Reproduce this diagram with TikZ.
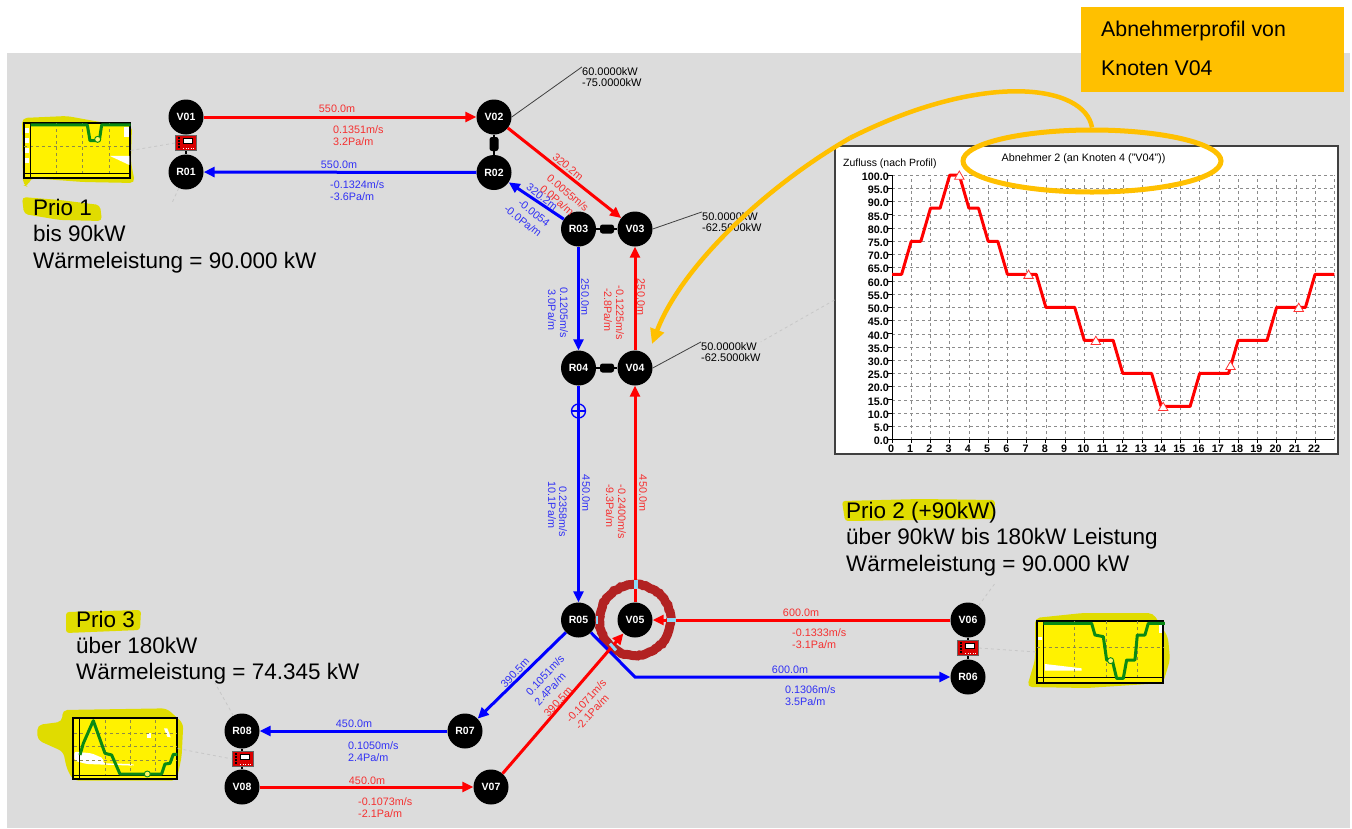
\documentclass[tikz,border=0pt]{standalone}
\usepackage{fontspec}
\setmainfont{Liberation Sans}
\usetikzlibrary{arrows.meta,shapes.geometric,decorations.pathmorphing}
\definecolor{sheetgray}{HTML}{DCDCDC}
\definecolor{noteorange}{HTML}{FFC000}
\definecolor{labelred}{HTML}{F53030}
\definecolor{labelblue}{HTML}{3030F5}
\definecolor{marker}{HTML}{E0DC00}
\definecolor{ringbrown}{HTML}{B22222}
\definecolor{curvegreen}{HTML}{0A8A14}
\begin{document}
\begin{tikzpicture}[
    x=1pt, y=-1pt,
    knot/.style = {
        circle,
        fill=black,
        text=white,
        minimum size=35pt,
        inner sep=0pt,
        font=\fontsize{10.5}{12}\selectfont\bfseries
    },
    redline/.style = {
        -{Triangle[length=11pt,width=10pt]},
        line width=3pt,
        draw=red
    },
    blueline/.style = {
        -{Triangle[length=11pt,width=10pt]},
        line width=3pt,
        draw=blue
    },
    redtext/.style = {
        text=labelred,
        align=left,
        inner sep=0pt,
        font=\fontsize{10.8}{12}\selectfont
    },
    bluetext/.style = {
        text=labelblue,
        align=left,
        inner sep=0pt,
        font=\fontsize{10.8}{12}\selectfont
    },
    loadtext/.style = {
        anchor=west,
        align=left,
        inner sep=0pt,
        font=\fontsize{11}{11.7}\selectfont
    },
    priotext/.style = {
        anchor=north west,
        align=left,
        inner sep=0pt,
        font=\fontsize{22.5}{26.3}\selectfont
    },
    notetext/.style = {
        anchor=west,
        inner sep=0pt,
        font=\fontsize{21.3}{24}\selectfont
    },
    leader/.style = {
        draw=black!75,
        line width=0.8pt
    },
    faintline/.style = {
        draw=black!22,
        dashed,
        line width=0.8pt
    },
    link/.style = {
        draw=black,
        line width=1.5pt
    },
    devicebox/.style = {
        rectangle,
        fill=red!85!black,
        draw=black!60,
        line width=0.8pt,
        minimum width=21pt,
        minimum height=15pt,
        inner sep=0pt
    },
    devicescreen/.style = {
        rectangle,
        fill=white,
        draw=black,
        line width=0.6pt,
        minimum width=9pt,
        minimum height=5pt,
        inner sep=0pt
    },
    pumpbox/.style = {
        rectangle,
        rounded corners=2.5pt,
        fill=black,
        minimum width=14pt,
        minimum height=9pt,
        inner sep=0pt
    },
    minichart/.style = {
        rectangle,
        fill=yellow,
        draw=black,
        line width=1.2pt,
        inner sep=0pt
    },
    minigrid/.style = {
        draw=black!50!yellow,
        dashed,
        line width=0.6pt
    },
    minicurve/.style = {
        draw=curvegreen,
        line width=3pt,
        line join=round
    },
    minidot/.style = {
        circle,
        fill=yellow!60,
        draw=curvegreen,
        line width=0.9pt,
        minimum size=6pt,
        inner sep=0pt
    },
    gridline/.style = {
        draw=black!45,
        dash pattern=on 3pt off 3pt,
        line width=0.5pt
    },
    ticktext/.style = {
        inner sep=0pt,
        font=\fontsize{10.8}{12}\selectfont\bfseries
    },
    hourmark/.style = {
        regular polygon,
        regular polygon sides=3,
        fill=white,
        draw=red!80,
        line width=0.8pt,
        minimum size=11pt,
        inner sep=0pt
    },
    tipmark/.style = {
        rectangle,
        fill=cyan!45,
        inner sep=0pt
    }
]

\useasboundingbox (0,0) rectangle (1352,828);
\fill[white] (0,0) rectangle (1352,828);
\fill[sheetgray] (7,53) rectangle (1350,828);

% network knots
\node (V01) [knot] at (186,117) {V01};
\node (R01) [knot] at (186,172) {R01};
\node (V02) [knot] at (494,117) {V02};
\node (R02) [knot] at (494,172.5) {R02};
\node (R03) [knot] at (578.5,229) {R03};
\node (V03) [knot] at (635,229) {V03};
\node (R04) [knot] at (578.5,368) {R04};
\node (V04) [knot] at (635,368) {V04};
\node (R05) [knot] at (578.5,620) {R05};
\node (V05) [knot] at (635,620) {V05};
\node (V06) [knot] at (968,620) {V06};
\node (R06) [knot] at (968,677) {R06};
\node (R07) [knot] at (465,731) {R07};
\node (R08) [knot] at (242,731) {R08};
\node (V08) [knot] at (242,787) {V08};
\node (V07) [knot] at (491,787) {V07};

% heat ring round V05
\node (ring) [circle, draw=ringbrown, line width=9pt, minimum size=71pt, inner sep=0pt, decorate, decoration={random steps,segment length=2.5pt,amplitude=0.7pt}] at (635,620) {};

\coordinate (bend06) at (635,677);
\draw [redline] (V01) -- (V02);
\draw [blueline] (R02) -- (R01);
\draw [redline] (V02) -- (V03);
\draw [blueline] (R03) -- (R02);
\draw [redline] (V04) -- (V03);
\draw [blueline] (R03) -- (R04);
\draw [redline] (V05) -- (V04);
\draw [blueline] (R04) -- (R05);
\draw [redline] (V06) -- (V05);
\draw [blueline] (R05) -- (bend06) -- (R06);
\draw [blueline] (R05) -- (R07);
\draw [redline] (V07) -- (V05);
\draw [blueline] (R07) -- (R08);
\draw [redline] (V08) -- (V07);

\node (ringtop) [tipmark, minimum width=4pt, minimum height=9pt] at (635.5,584) {};
\node (ringright) [tipmark, minimum width=9pt, minimum height=4pt] at (671,620) {};
\node (ringdiag) [tipmark, minimum width=9pt, minimum height=3pt, rotate=-48] at (613,647) {};
\node (ringleft) [tipmark, minimum width=2pt, minimum height=8pt] at (596.5,620) {};

% valve on the return line
\node (valve) [circle, draw=blue, line width=1.3pt, minimum size=14pt, inner sep=0pt] at (578.5,411) {};
\draw [blue, line width=1.3pt] (valve.west) -- (valve.east);

% pumps and consumer boxes between the knots
\draw [link] (V01) -- (R01);
\draw [link] (V06) -- (R06);
\draw [link] (V08) -- (R08);
\draw [link] (V02) -- (R02);
\draw [link] (R03) -- (V03);
\draw [link] (R04) -- (V04);
\node (pump02) [pumpbox, rotate=90] at (494,144) {};
\node (pump03) [pumpbox] at (607,229) {};
\node (pump04) [pumpbox] at (607,368) {};
\foreach \devname/\devx/\devy in {devA/186/143, devB/968/648, devC/243/759} {
    \node (\devname) [devicebox] at (\devx,\devy) {};
    \node (\devname s) [devicescreen] at (\devx+2,\devy-2) {};
    \draw [black, line width=1.2pt, dash pattern=on 1.5pt off 1.5pt] (\devx-7,\devy-6) -- (\devx-7,\devy+6);
    \draw [white, line width=1pt, dash pattern=on 1pt off 1.5pt] (\devx-3,\devy+5) -- (\devx+9,\devy+5);
}

% pipe labels
\node (len0102) [redtext] at (337,109) {550.0m};
\node (flow0102) [redtext, anchor=north west] at (333,125) {0.1351m/s\\3.2Pa/m};
\node (len0201) [bluetext] at (339,165) {550.0m};
\node (flow0201) [bluetext, anchor=north west] at (330,180) {-0.1324m/s\\-3.6Pa/m};
\node (len0203) [redtext, rotate=-40] at (568,167) {320.2m};
\node (flow0203) [redtext, rotate=-40] at (568,193) {0.0055m/s};
\node (pres0203) [redtext, rotate=-40] at (557,200) {0.0Pa/m};
\node (len0302) [bluetext, rotate=-38] at (542,197) {320.2m};
\node (flow0302) [bluetext, rotate=-38] at (534,213) {-0.0054};
\node (pres0302) [bluetext, rotate=-38] at (523,221) {-0.0Pa/m};
\node (len0304) [bluetext, rotate=-90] at (585,297) {250.0m};
\node (flow0304) [bluetext, rotate=-90] at (564,313) {0.1205m/s};
\node (pres0304) [bluetext, rotate=-90] at (552,310) {3.0Pa/m};
\node (len0403) [redtext, rotate=-90] at (641,297) {250.0m};
\node (flow0403) [redtext, rotate=-90] at (620,313) {-0.1225m/s};
\node (pres0403) [redtext, rotate=-90] at (608,310) {-2.8Pa/m};
\node (len0405) [bluetext, rotate=-90] at (586,493) {450.0m};
\node (flow0405) [bluetext, rotate=-90] at (563,512) {0.2358m/s};
\node (pres0405) [bluetext, rotate=-90] at (552,505) {10.1Pa/m};
\node (len0504) [redtext, rotate=-90] at (643,493) {450.0m};
\node (flow0504) [redtext, rotate=-90] at (622,512) {-0.2400m/s};
\node (pres0504) [redtext, rotate=-90] at (610,506) {-9.3Pa/m};
\node (len0605) [redtext] at (801,613) {600.0m};
\node (flow0605) [redtext, anchor=north west] at (792,628) {-0.1333m/s\\-3.1Pa/m};
\node (len0506) [bluetext] at (790,670) {600.0m};
\node (flow0506) [bluetext, anchor=north west] at (785,685) {0.1306m/s\\3.5Pa/m};
\node (len0507) [bluetext, rotate=47] at (515,673) {390.5m};
\node (flow0507) [bluetext, rotate=47] at (545,675) {0.1051m/s};
\node (pres0507) [bluetext, rotate=47] at (550,689) {2.4Pa/m};
\node (len0705) [redtext, rotate=48] at (558,702) {390.5m};
\node (flow0705) [redtext, rotate=48] at (586,701) {-0.1071m/s};
\node (pres0705) [redtext, rotate=48] at (592,712) {-2.1Pa/m};
\node (len0708) [bluetext] at (354,724) {450.0m};
\node (flow0708) [bluetext, anchor=north west] at (348,741) {0.1050m/s\\2.4Pa/m};
\node (len0807) [redtext] at (367,781) {450.0m};
\node (flow0807) [redtext, anchor=north west] at (358,797) {-0.1073m/s\\-2.1Pa/m};

% consumer loads
\node (load02) [loadtext] at (582,77) {60.0000kW\\-75.0000kW};
\node (load03) [loadtext] at (702,222) {50.0000kW\\-62.5000kW};
\node (load04) [loadtext] at (701,352) {50.0000kW\\-62.5000kW};
\draw [leader] (V02.east) -- (load02.north west);
\draw [leader] (V03.east) -- (load03.north west);
\draw [leader] (V04.east) -- (load04.north west);

% marker strokes behind the priorities
\fill [marker, rounded corners=4pt] (22,197) -- (60,200) -- (100,205) -- (102,221) -- (60,220) -- (24,214) -- cycle;
\fill [marker, rounded corners=3pt] (842,501) -- (920,499) -- (995,500) -- (994,519) -- (920,520) -- (845,521) -- cycle;
\fill [marker, rounded corners=3pt] (66,612) -- (141,610) -- (140,630) -- (66,633) -- cycle;
\node (prioA) [priotext] at (33,199) {Prio 1\\bis 90kW\\Wärmeleistung = 90.000 kW};
\node (prioB) [priotext] at (846,502) {Prio 2 (+90kW)\\über 90kW bis 180kW Leistung\\Wärmeleistung = 90.000 kW};
\node (prioC) [priotext] at (76,610.5) {Prio 3\\über 180kW\\Wärmeleistung = 74.345 kW};

% small profile of Prio 1
\fill [marker, rounded corners=5pt] (22,118) -- (67,116) -- (100,122) -- (132,125) -- (131,163) -- (135,183) -- (83,182) -- (30,178) -- (28,187) -- (23,185) -- cycle;
\node (miniA) [minichart, minimum width=106pt, minimum height=55pt] at (77,150.5) {};
\begin{scope}[shift={(0,50)}, x=0.3333pt, y=-0.3333pt]
    \foreach \gapy in {235,265,295,325} {
        \fill [white] (75,\gapy) rectangle (86,\gapy+14);
    }
    \fill [white] (372,230) rectangle (388,260);
    \fill [white] (330,318) -- (388,318) -- (388,345) -- cycle;
    \draw [minigrid] (72,290) -- (390,290);
    \foreach \gridx in {170,248,327} {
        \draw [minigrid] (\gridx,220) -- (\gridx,372);
    }
    \draw [black, line width=1pt] (92,218) -- (92,383);
    \draw [black, line width=1pt] (72,372) -- (390,372);
    \draw [minicurve] (92,225) -- (262,225) -- (270,272) -- (298,272) -- (305,225) -- (392,225);
    \node (dotA) [minidot] at (293,268) {};
\end{scope}

% small profile of Prio 2
\fill [marker, rounded corners=5pt] (1035,618) -- (1083,613) -- (1153,613) -- (1168,637) -- (1170,660) -- (1163,683) -- (1087,688) -- (1027,687) -- (1035,660) -- cycle;
\node (miniB) [minichart, minimum width=126pt, minimum height=62pt] at (1100,652) {};
\begin{scope}[shift={(720,580)}, x=0.3333pt, y=-0.3333pt]
    \fill [white] (955,170) rectangle (966,180);
    \fill [white] (975,252) -- (1085,265) -- (1085,272) -- (975,272) -- cycle;
    \fill [white] (1318,135) rectangle (1327,160);
    \draw [minigrid] (950,202) -- (1330,202);
    \foreach \gridx in {1063,1158,1253} {
        \draw [minigrid] (\gridx,124) -- (\gridx,292);
    }
    \draw [black, line width=1pt] (970,122) -- (970,308);
    \draw [black, line width=1pt] (950,292) -- (1330,292);
    \draw [minicurve] (970,130) -- (1115,130) -- (1125,165) -- (1150,170) -- (1160,240) -- (1178,245) -- (1190,295) -- (1210,295) -- (1220,240) -- (1245,240) -- (1252,165) -- (1275,165) -- (1285,130) -- (1335,130);
    \node (dotB) [minidot] at (1172,242) {};
\end{scope}

% small profile of Prio 3
\begin{scope}[shift={(20,700)}, x=0.3333pt, y=-0.3333pt]
    \fill [marker, rounded corners=5pt] (127,30) -- (440,25) -- (490,70) -- (485,170) -- (470,242) -- (160,242) -- (140,205) -- (130,155) -- (52,120) -- (52,75) -- (127,65) -- cycle;
\end{scope}
\node (miniC) [minichart, minimum width=104pt, minimum height=61pt] at (125,748.5) {};
\begin{scope}[shift={(20,700)}, x=0.3333pt, y=-0.3333pt]
    \fill [white, rounded corners=2pt] (163,155) -- (215,160) -- (250,175) -- (250,190) -- (340,192) -- (340,197) -- (200,192) -- (163,182) -- cycle;
    \fill [white] (382,98) rectangle (392,115);
    \fill [white] (432,85) -- (442,85) -- (452,112) -- (442,110) -- cycle;
    \foreach \gridy in {100,140,180} {
        \draw [minigrid] (162,\gridy) -- (470,\gridy);
    }
    \foreach \gridx in {255,330,405} {
        \draw [minigrid] (\gridx,60) -- (\gridx,225);
    }
    \draw [black, line width=1pt] (180,55) -- (180,238);
    \draw [black, line width=1pt] (160,225) -- (470,225);
    \draw [minicurve] (180,165) -- (190,130) -- (220,62) -- (255,160) -- (275,165) -- (300,222) -- (425,222) -- (435,192) -- (450,190) -- (460,163) -- (472,163);
    \node (dotC) [minidot] at (382,222) {};
\end{scope}

\coordinate (footR01) at (172,203);
\coordinate (footV06) at (996,582);
\coordinate (footR08) at (215,683);
\draw [faintline] (miniA.east) -- (devA.west);
\draw [faintline] (devB.east) -- (miniB.west);
\draw [faintline] (miniC.east) -- (devC.west);
\draw [faintline] (R01) -- (footR01);
\draw [faintline] (V06) -- (footV06);
\draw [faintline] (R08) -- (footR08);

% profile chart of V04
\node (chart) [rectangle, fill=white, draw=black!75, line width=1.2pt, minimum width=503pt, minimum height=308pt, inner sep=0pt] at (1086.5,300) {};
\draw [faintline] (chart.west) -- (load04.north east);
\node (charttitle) [inner sep=0pt, font=\fontsize{10.8}{12}\selectfont] at (1083.5,158.5) {Abnehmer 2 (an Knoten 4 ("V04"))};
\node (charty) [anchor=west, inner sep=0pt, font=\fontsize{10.5}{12}\selectfont] at (843,163.5) {Zufluss (nach Profil)};
\begin{scope}[shift={(892,439.5)}, x=19.23pt, y=2.643pt]
    \foreach \val in {5,10,...,100} {
        \draw [gridline] (0,\val) -- (23,\val);
    }
    \foreach \hour in {1,...,23} {
        \draw [gridline] (\hour,0) -- (\hour,100);
    }
    \foreach \val in {0,5,...,100} {
        \draw [black, line width=0.8pt] (0,\val) -- ++(-4pt,0pt);
        \node (ytick\val) [ticktext, anchor=east] at ([xshift=-3pt,yshift=-1.5pt]0,\val) {\val.0};
    }
    \foreach \hour in {0,...,22} {
        \draw [black, line width=0.8pt] (\hour,0) -- ++(0pt,-3pt);
        \node (xtick\hour) [ticktext, anchor=north] at ([yshift=-5.5pt,xshift=-1pt]\hour,0) {\hour};
    }
    \draw [black, line width=1pt] (0,100) -- (0,0) -- (23,0);
    \draw [red, line width=3pt, line join=round] (0,62.5) -- (0.5,62.5) -- (1,75) -- (1.5,75) -- (2,87.5) -- (2.5,87.5) -- (3,100) -- (3.5,100) -- (4,87.5) -- (4.5,87.5) -- (5,75) -- (5.5,75) -- (6,62.5) -- (7.5,62.5) -- (8,50) -- (9.5,50) -- (10,37.5) -- (11.5,37.5) -- (12,25) -- (13.5,25) -- (14,12.5) -- (15.5,12.5) -- (16,25) -- (17.5,25) -- (18,37.5) -- (19.5,37.5) -- (20,50) -- (21.5,50) -- (22,62.5) -- (23,62.5);
    \node (markA) [hourmark] at (3.5,99.5) {};
    \node (markB) [hourmark] at (7.1,62) {};
    \node (markC) [hourmark] at (10.6,37) {};
    \node (markD) [hourmark] at (14.1,12) {};
    \node (markE) [hourmark] at (17.6,27.5) {};
    \node (markF) [hourmark] at (21.15,49.5) {};
\end{scope}

% orange note
\fill [noteorange] (1081,7) rectangle (1344,92);
\node (noteA) [notetext] at (1101,31) {Abnehmerprofil von};
\node (noteB) [notetext] at (1101,68) {Knoten V04};
\node (noteoval) [ellipse, draw=noteorange, line width=5pt, minimum width=258pt, minimum height=62pt, inner sep=0pt] at (1092,161) {};
\coordinate (noteturn) at (850,138);
\coordinate (notetip) at (652,344);
\draw [noteorange, line width=4.5pt] (noteoval.north) .. controls (1085,85) and (985,70) .. (noteturn);
\draw [noteorange, line width=4.5pt, -{Triangle[length=15pt,width=14pt]}] (noteturn) .. controls (760,190) and (680,270) .. (notetip);

\end{tikzpicture}
\end{document}
